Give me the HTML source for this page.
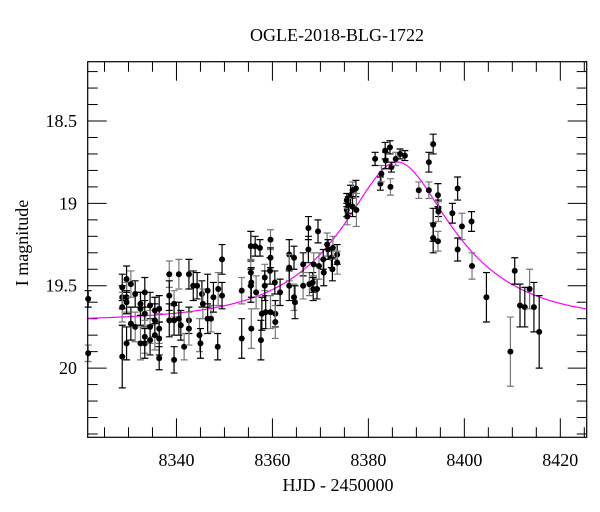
<!DOCTYPE html>
<html><head><meta charset="utf-8"><style>
html,body{margin:0;padding:0;background:#fff;}
svg{display:block;font-family:"Liberation Serif",serif;}
</style></head><body>
<svg id="chart" width="600" height="512" viewBox="0 0 600 512" xmlns="http://www.w3.org/2000/svg">
<rect width="600" height="512" fill="#fff"/>
<text x="337" y="41" font-size="18" text-anchor="middle">OGLE-2018-BLG-1722</text>
<text x="338" y="491" font-size="18" text-anchor="middle">HJD - 2450000</text>
<text transform="translate(28,243) rotate(-90)" font-size="18" text-anchor="middle">I magnitude</text>
<g id="plot"></g>
</svg>
<script>
const xTicks=[8340,8360,8380,8400,8420];
const yTicks=[18.5,19,19.5,20];
const yTickLabels=["18.5","19","19.5","20"];
const days=[8321.6,8321.6,8328.7,8328.7,8328.7,8328.7,8329.6,8329.6,8329.6,8329.6,8330.5,8330.5,8331.4,8331.4,8332.5,8332.5,8332.5,8333.4,8333.4,8333.4,8333.4,8334.5,8334.5,8334.5,8335.5,8335.5,8335.5,8336.4,8336.4,8336.4,8336.4,8338.5,8338.5,8338.5,8339.5,8339.5,8339.5,8340.5,8340.5,8340.9,8341.6,8342.6,8342.6,8342.6,8343.5,8344.3,8344.8,8345.0,8345.3,8345.5,8346.5,8346.5,8347.2,8347.7,8348.6,8348.7,8349.5,8349.5,8353.6,8353.6,8355.5,8355.5,8355.5,8355.6,8355.6,8356.4,8357.4,8356.6,8357.8,8357.6,8358.4,8358.4,8358.6,8359.6,8359.6,8359.5,8359.6,8360.5,8360.6,8360.6,8361.6,8363.5,8363.5,8363.5,8364.5,8364.5,8364.7,8366.4,8366.4,8367.5,8367.5,8367.7,8368.4,8368.5,8368.6,8369.3,8369.5,8369.7,8370.6,8370.7,8371.4,8371.6,8372.3,8372.6,8372.5,8373.5,8373.5,8375.5,8375.5,8375.6,8375.8,8376.3,8376.7,8376.7,8377.4,8377.5,8381.4,8382.5,8382.7,8383.5,8383.6,8384.6,8384.5,8384.8,8385.7,8386.6,8387.6,8390.5,8392.6,8393.5,8392.6,8394.5,8394.6,8394.6,8393.5,8393.5,8394.5,8397.5,8398.6,8399.5,8398.6,8401.5,8401.6,8404.6,8410.5,8409.6,8411.6,8412.6,8413.6,8414.5,8415.6];
const mags=[19.58,19.91,19.51,19.57,19.63,19.93,19.46,19.57,19.60,19.85,19.49,19.73,19.55,19.75,19.61,19.64,19.85,19.54,19.67,19.81,19.85,19.62,19.75,19.83,19.65,19.80,19.71,19.64,19.76,19.82,19.94,19.43,19.56,19.71,19.61,19.71,19.95,19.43,19.70,19.74,19.87,19.43,19.71,19.76,19.50,19.50,19.80,19.85,19.55,19.61,19.53,19.70,19.70,19.57,19.87,19.52,19.34,19.56,19.53,19.82,19.26,19.42,19.50,19.48,19.76,19.26,19.27,19.54,19.67,19.83,19.45,19.50,19.66,19.22,19.33,19.41,19.66,19.48,19.67,19.72,19.54,19.31,19.39,19.50,19.33,19.57,19.60,19.37,19.50,19.15,19.28,19.49,19.48,19.52,19.37,19.52,19.17,19.38,19.34,19.42,19.25,19.28,19.33,19.27,19.40,19.31,19.36,18.98,19.04,19.08,19.01,18.95,18.92,19.02,18.91,19.04,18.73,18.88,18.82,18.68,18.74,18.90,18.66,18.78,18.73,18.70,18.71,18.92,18.75,18.64,18.92,18.95,19.03,19.05,19.13,19.21,19.23,19.06,18.91,19.14,19.28,19.11,19.38,19.57,19.41,19.90,19.62,19.63,19.52,19.63,19.78];
const errs=[0.05,0.05,0.08,0.07,0.09,0.19,0.08,0.09,0.07,0.10,0.08,0.10,0.08,0.09,0.07,0.10,0.10,0.09,0.08,0.10,0.09,0.08,0.10,0.09,0.08,0.09,0.10,0.08,0.09,0.10,0.07,0.08,0.09,0.10,0.08,0.09,0.08,0.09,0.10,0.09,0.08,0.09,0.08,0.10,0.09,0.08,0.10,0.09,0.08,0.09,0.10,0.09,0.08,0.09,0.08,0.10,0.09,0.08,0.08,0.12,0.09,0.08,0.10,0.09,0.12,0.06,0.05,0.10,0.10,0.12,0.08,0.09,0.10,0.06,0.06,0.08,0.10,0.07,0.08,0.10,0.08,0.09,0.08,0.09,0.07,0.08,0.10,0.07,0.08,0.07,0.08,0.07,0.06,0.07,0.07,0.06,0.07,0.08,0.06,0.08,0.07,0.06,0.06,0.07,0.07,0.06,0.07,0.04,0.04,0.05,0.05,0.06,0.05,0.06,0.05,0.10,0.04,0.04,0.05,0.05,0.05,0.05,0.04,0.03,0.04,0.03,0.03,0.05,0.06,0.06,0.05,0.07,0.05,0.06,0.10,0.09,0.06,0.06,0.07,0.08,0.07,0.06,0.08,0.15,0.08,0.21,0.13,0.12,0.12,0.15,0.22];
const modelT0=8386.0, modelU0=0.44, modelTE=21.4, modelBase=19.715;

const X0=87.7,X1=586.7,Y0=61.7,Y1=437.3,D0=8321.5,D1=8425.5,M0=18.14,M1=20.42;
const xs=d=>X0+(d-D0)/(D1-D0)*(X1-X0);
const ys=m=>Y0+(m-M0)/(M1-M0)*(Y1-Y0);
const NS="http://www.w3.org/2000/svg";
const g=document.getElementById('plot');
function mk(tag,attrs){const e=document.createElementNS(NS,tag);for(const k in attrs)e.setAttribute(k,attrs[k]);g.appendChild(e);return e;}
let e;
for(let d=8325;d<=8425;d+=5){const major=d%20===0;const L=major?19:10;const x=xs(d);
 e=mk('line',{x1:x,x2:x,y1:Y1,y2:Y1-L,stroke:'#000','stroke-width':1});
 
 
 e=mk('line',{x1:x,x2:x,y1:Y0,y2:Y0+L,stroke:'#000','stroke-width':1});
 
 }
for(let i=82;i<=204;i++){const m=i/10;if(m<M0||m>M1)continue;const major=i%5===0;const L=major?19:10;const y=ys(m);
 e=mk('line',{x1:X0,x2:X0+L,y1:y,y2:y,stroke:'#000','stroke-width':1});
 
 
 e=mk('line',{x1:X1,x2:X1-L,y1:y,y2:y,stroke:'#000','stroke-width':1});
 
 }
xTicks.forEach(d=>{e=mk('text',{x:xs(d),y:466,'font-size':18,'text-anchor':'middle'});e.textContent=String(d);
 
 });
yTicks.forEach((m,i)=>{e=mk('text',{x:77,y:ys(m)+6,'font-size':18,'text-anchor':'end'});e.textContent=yTickLabels[i];
 
 });
function modelMag(t){const u=Math.sqrt(modelU0*modelU0+Math.pow((t-modelT0)/modelTE,2));const A=(u*u+2)/(u*Math.sqrt(u*u+4));return modelBase-2.5*Math.log10(A);}
let p='';for(let t=D0;t<=D1;t+=0.25){p+=(p?'L':'M')+xs(t).toFixed(2)+','+ys(modelMag(t)).toFixed(2);}
e=mk('path',{d:p,fill:'none',stroke:'#ff00ff','stroke-width':1.2});


days.forEach((d,i)=>{const x=xs(d),y=ys(mags[i]),ya=ys(mags[i]-errs[i]),yb=ys(mags[i]+errs[i]);const c=(i%3===1)?'#777':'#000';
 e=mk('path',{d:`M${x},${ya}L${x},${yb}M${x-3.5},${ya}L${x+3.5},${ya}M${x-3.5},${yb}L${x+3.5},${yb}`,stroke:c,'stroke-width':1.2,fill:'none'});
 
 
 e=mk('circle',{cx:x,cy:y,r:3,fill:'#000'});
 
 });
e=mk('rect',{x:X0,y:Y0,width:X1-X0,height:Y1-Y0,fill:'none',stroke:'#000','stroke-width':1.2});


</script>
</body></html>
